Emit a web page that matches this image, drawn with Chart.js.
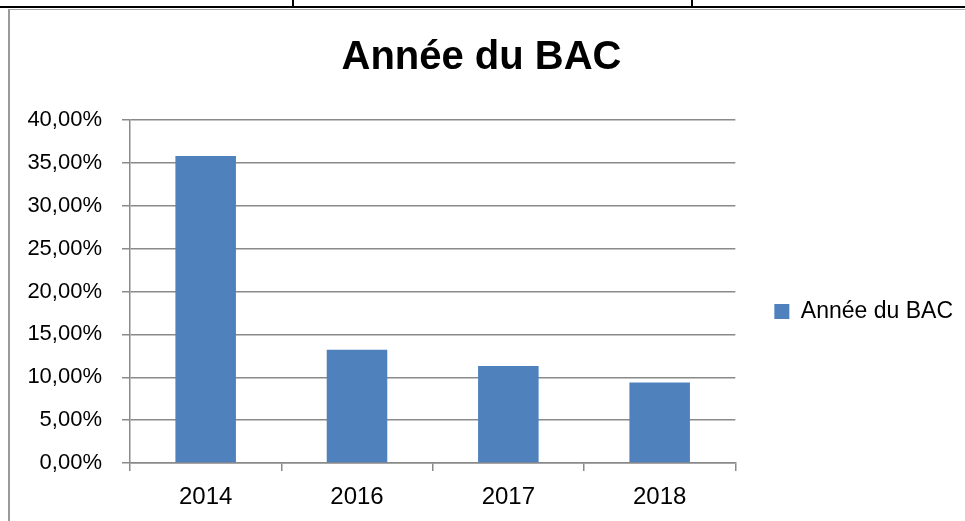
<!DOCTYPE html>
<html>
<head>
<meta charset="utf-8">
<script src="https://cdn.jsdelivr.net/npm/chart.js@4"></script>
<style>
  html, body { margin: 0; padding: 0; background: #fff; }
  body { width: 965px; height: 521px; position: relative; overflow: hidden; }
  #wrap { position: absolute; left: 0; top: 0; width: 965px; height: 521px; }
  .ln { position: absolute; }
</style>
</head>
<body>
<div id="wrap"><canvas id="c" width="965" height="521"></canvas></div>
<div class="ln" style="left:0;top:6px;width:965px;height:2px;background:#000;"></div>
<div class="ln" style="left:292px;top:0;width:2px;height:7px;background:#000;"></div>
<div class="ln" style="left:691px;top:0;width:2px;height:7px;background:#000;"></div>
<div class="ln" style="left:8px;top:9px;width:957px;height:1px;background:#a6a6a6;"></div>
<div class="ln" style="left:8px;top:9px;width:2px;height:512px;background:#9a9a9a;"></div>
<script>
const chartTitle = "Année du BAC";
const seriesName = "Année du BAC";
const categories = ["2014", "2016", "2017", "2018"];
const values = [0.358, 0.132, 0.113, 0.094];
const yTicks = [0, 0.05, 0.10, 0.15, 0.20, 0.25, 0.30, 0.35, 0.40];

const FONT = "'Liberation Sans', Arial, sans-serif";
const GRID = "#8a8a8a";

const legendShift = {
  id: 'legendShift',
  afterLayout(chart) {
    const l = chart.legend;
    if (l) { l.top += 20; l.bottom += 20; }
  }
};

new Chart(document.getElementById('c'), {
  type: 'bar',
  data: {
    labels: categories,
    datasets: [{
      label: seriesName,
      data: values,
      backgroundColor: '#4F81BD',
      borderWidth: 0,
      barPercentage: 0.4,
      categoryPercentage: 1.0
    }]
  },
  options: {
    responsive: false,
    animation: false,
    devicePixelRatio: 1,
    layout: { padding: { left: 0, right: 2, top: 0, bottom: 0 } },
    plugins: {
      title: {
        display: true,
        text: chartTitle,
        color: '#000',
        font: { family: FONT, size: 40, weight: 'bold', lineHeight: 1.2 },
        padding: { top: 34, bottom: 38 }
      },
      legend: {
        display: true,
        position: 'right',
        fullSize: false,
        align: 'center',
        labels: {
          boxWidth: 15,
          boxHeight: 15,
          padding: 39,
          color: '#000',
          font: { family: FONT, size: 23 }
        }
      },
      tooltip: { enabled: false }
    },
    scales: {
      x: {
        grid: {
          display: true,
          drawOnChartArea: false,
          drawTicks: true,
          tickLength: 8,
          offset: true,
          color: GRID,
          lineWidth: 1.5
        },
        border: { display: true, color: GRID, width: 1.5 },
        ticks: {
          color: '#000',
          padding: 12,
          font: { family: FONT, size: 24 }
        },
        afterFit(scale) { scale.height = 58; }
      },
      y: {
        min: 0,
        max: 0.4,
        afterBuildTicks(scale) { scale.ticks = yTicks.map(v => ({ value: v })); },
        grid: {
          color: GRID,
          lineWidth: 1.5,
          drawTicks: true,
          tickLength: 8
        },
        border: { display: true, color: GRID, width: 1.5 },
        ticks: {
          color: '#000',
          padding: 20,
          font: { family: FONT, size: 22 },
          callback: (v) => (v * 100).toFixed(2).replace('.', ',') + '%'
        },
        afterFit(scale) { scale.width = 130; }
      }
    }
  },
  plugins: [legendShift]
});
</script>
</body>
</html>
